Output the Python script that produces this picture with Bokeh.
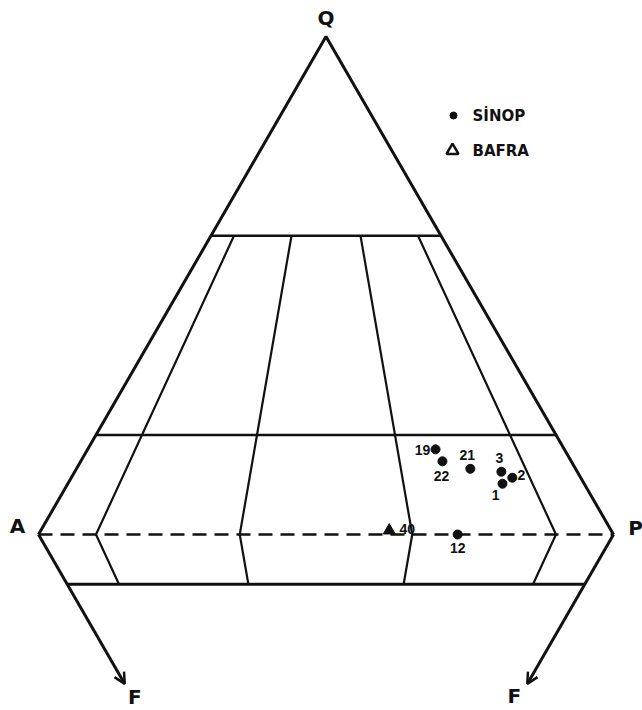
import numpy as np
from bokeh.plotting import figure
from bokeh.models import Range1d, Arrow, OpenHead
from bokeh.core.properties import value
from bokeh.embed import file_html
from bokeh.resources import INLINE

# ---------------- data ----------------
APEX_LABELS = ["Q", "A", "P", "F", "F"]
Q_LEVELS = [60, 20]          # horizontal boundaries in the Q triangle (%)
F_LEVEL = 10                 # horizontal boundary in the F triangle (%)
F_ARROW = 30                 # length of the A-F / P-F arrows (% F)
RATIOS = [10, 35, 65, 90]    # 100*P/(A+P) field boundaries

SINOP_LABELS = ["1", "2", "3", "12", "19", "21", "22"]
SINOP_Q = [10.2, 11.4, 12.6, 0.0, 17.1, 13.2, 14.7]
SINOP_A = [14.2, 11.9, 13.2, 27.1, 22.4, 18.3, 22.4]
SINOP_P = [75.6, 76.7, 74.2, 72.9, 60.5, 68.5, 62.9]

BAFRA_LABELS = ["40"]
BAFRA_Q = [0.8]
BAFRA_A = [38.6]
BAFRA_P = [60.6]

LEGEND_LABELS = ["SİNOP", "BAFRA"]

# label offsets (screen px, +y down)
SINOP_DX = [-7, 9, -2, 0, -13, -3, -1]
SINOP_DY = [11, -3, -14, 13, 1, -14, 15]
BAFRA_DX = [18]
BAFRA_DY = [-2]

# ---------------- geometry ----------------
S3 = np.sqrt(3) / 2
W, H = 642, 710
SCALE = 5.75            # px per % unit
OX, OY = 38, 534        # screen px of the A apex inside the plot


def tern(q, a, p, f=0.0):
    q, a, p, f = map(np.asarray, (q, a, p, f))
    tot = q + a + p + f
    q, p, f = 100 * q / tot, 100 * p / tot, 100 * f / tot
    return p + q / 2 + f / 2, (q - f) * S3


def px_to_data(sx, sy):
    return (sx - OX) / SCALE, (OY - sy) / SCALE


p = figure(width=W, height=H, output_backend="svg", toolbar_location=None,
           x_range=Range1d(-OX / SCALE, (W - OX) / SCALE),
           y_range=Range1d((OY - H) / SCALE, OY / SCALE),
           x_axis_type=None, y_axis_type=None, min_border=0)
p.grid.visible = False
p.outline_line_color = None
p.background_fill_color = "white"
p.border_fill_color = "white"

BLACK = "#111111"

# outer edges A-Q-P
ax, ay = tern(0, 100, 0)
qx, qy = tern(100, 0, 0)
px_, py_ = tern(0, 0, 100)
p.line([ax, qx, px_], [ay, qy, py_], line_color=BLACK, line_width=3)
# Q = 0 dashed
p.line([ax, px_], [ay, py_], line_color=BLACK, line_width=2.5, line_dash="14 8")

# horizontal Q levels
xs, ys = [], []
for q in Q_LEVELS:
    x1, y1 = tern(q, 100 - q, 0)
    x2, y2 = tern(q, 0, 100 - q)
    xs.append([float(x1), float(x2)])
    ys.append([float(y1), float(y2)])
p.multi_line(xs, ys, line_color=BLACK, line_width=2.5)

# ratio lines in Q triangle (Q=60 -> Q=0) and in F triangle (F=0 -> F=10)
xs, ys = [], []
for r in RATIOS:
    x1, y1 = tern(Q_LEVELS[0], (100 - Q_LEVELS[0]) * (1 - r / 100), (100 - Q_LEVELS[0]) * r / 100)
    x2, y2 = tern(0, 100 - r, r)
    x3, y3 = tern(0, (100 - F_LEVEL) * (1 - r / 100), (100 - F_LEVEL) * r / 100, F_LEVEL)
    xs.append([float(x1), float(x2), float(x3)])
    ys.append([float(y1), float(y2), float(y3)])
p.multi_line(xs, ys, line_color=BLACK, line_width=2.2)

# F = 10 line
x1, y1 = tern(0, 100 - F_LEVEL, 0, F_LEVEL)
x2, y2 = tern(0, 0, 100 - F_LEVEL, F_LEVEL)
p.line([float(x1), float(x2)], [float(y1), float(y2)], line_color=BLACK, line_width=3)

# arrows A->F and P->F
fax, fay = tern(0, 100 - F_ARROW, 0, F_ARROW)
fpx, fpy = tern(0, 0, 100 - F_ARROW, F_ARROW)
for (sx0, sy0), (ex, ey) in [((ax, ay), (fax, fay)), ((px_, py_), (fpx, fpy))]:
    p.add_layout(Arrow(end=OpenHead(size=11, line_width=2.5, line_color=BLACK),
                       x_start=float(sx0), y_start=float(sy0),
                       x_end=float(ex), y_end=float(ey),
                       line_color=BLACK, line_width=3))

# apex labels
lab_x = [qx, ax, px_, fax, fpx]
lab_y = [qy, ay, py_, fay, fpy]
lab_dx = [0, -21, 22, 10, -13]
lab_dy = [-19, -9, -7, 13, 12]
p.text(x=[float(v) for v in lab_x], y=[float(v) for v in lab_y], text=APEX_LABELS,
       x_offset=lab_dx, y_offset=lab_dy,
       text_font=value("DejaVu Sans"), text_font_style="bold", text_font_size="20px",
       text_align="center", text_baseline="middle", text_color=BLACK)

# samples
sx, sy = tern(SINOP_Q, SINOP_A, SINOP_P)
p.scatter(sx, sy, marker="circle", size=9, fill_color=BLACK, line_color=BLACK)
p.text(x=sx, y=sy, text=SINOP_LABELS, x_offset=SINOP_DX, y_offset=SINOP_DY,
       text_font=value("Liberation Sans"), text_font_style="bold", text_font_size="14px",
       text_align="center", text_baseline="middle", text_color=BLACK)

bx, by = tern(BAFRA_Q, BAFRA_A, BAFRA_P)
p.scatter(bx, by, marker="triangle", size=12, fill_color=BLACK, line_color=BLACK)
p.text(x=bx, y=by, text=BAFRA_LABELS, x_offset=BAFRA_DX, y_offset=BAFRA_DY,
       text_font=value("Liberation Sans"), text_font_style="bold", text_font_size="14px",
       text_align="center", text_baseline="middle", text_color=BLACK)

# legend (drawn by hand, screen anchored)
lgx, lgy = px_to_data(453, 115)
lgx2, lgy2 = px_to_data(452, 150)
tgx, _ = px_to_data(472, 0)
p.scatter([lgx], [lgy], marker="circle", size=7, fill_color=BLACK, line_color=BLACK)
p.scatter([lgx2], [lgy2], marker="triangle", size=12, fill_color="white",
          line_color=BLACK, line_width=2.5)
p.text(x=[tgx, tgx], y=[lgy, lgy2], text=LEGEND_LABELS,
       text_font=value("DejaVu Sans"), text_font_style="bold", text_font_size="15px",
       text_align="left", text_baseline="middle", text_color=BLACK)

open("out.html", "w").write(file_html(p, INLINE))
